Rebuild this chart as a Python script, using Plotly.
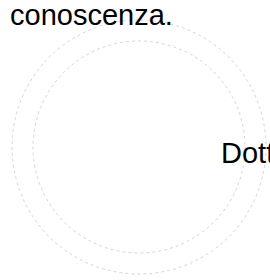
import plotly.graph_objects as go

# Text fragments visible on the scanned page
texts = ["conoscenza.", "Dott"]
text_x = [8, 219]
text_y = [33, 171]

# Faint stamp rings (center x, center y, radius)
ring_cx = [139, 139]
ring_cy = [147, 147]
ring_r = [127, 106]

fig = go.Figure()
fig.add_trace(go.Scatter(x=[0, 270], y=[0, 280], mode="markers",
                         marker=dict(opacity=0), hoverinfo="skip", showlegend=False))

for cx, cy, r in zip(ring_cx, ring_cy, ring_r):
    fig.add_shape(type="circle", xref="x", yref="y",
                  x0=cx - r, x1=cx + r, y0=cy - r, y1=cy + r,
                  line=dict(color="rgba(120,120,120,0.3)", width=1, dash="dot"))

for t, x, y in zip(texts, text_x, text_y):
    fig.add_annotation(x=x, y=y, xref="x", yref="y", text=t, showarrow=False,
                       xanchor="left", yanchor="bottom",
                       font=dict(family="Liberation Sans, Arial", size=29, color="black"))

fig.update_xaxes(range=[0, 270], visible=False, fixedrange=True)
fig.update_yaxes(range=[280, 0], visible=False, fixedrange=True)
fig.update_layout(width=270, height=280, margin=dict(l=0, r=0, t=0, b=0),
                  paper_bgcolor="white", plot_bgcolor="white", showlegend=False)
fig.write_html("out.html", config={"displayModeBar": False},
               post_script="document.body.style.margin='0';document.body.style.overflow='hidden';")
